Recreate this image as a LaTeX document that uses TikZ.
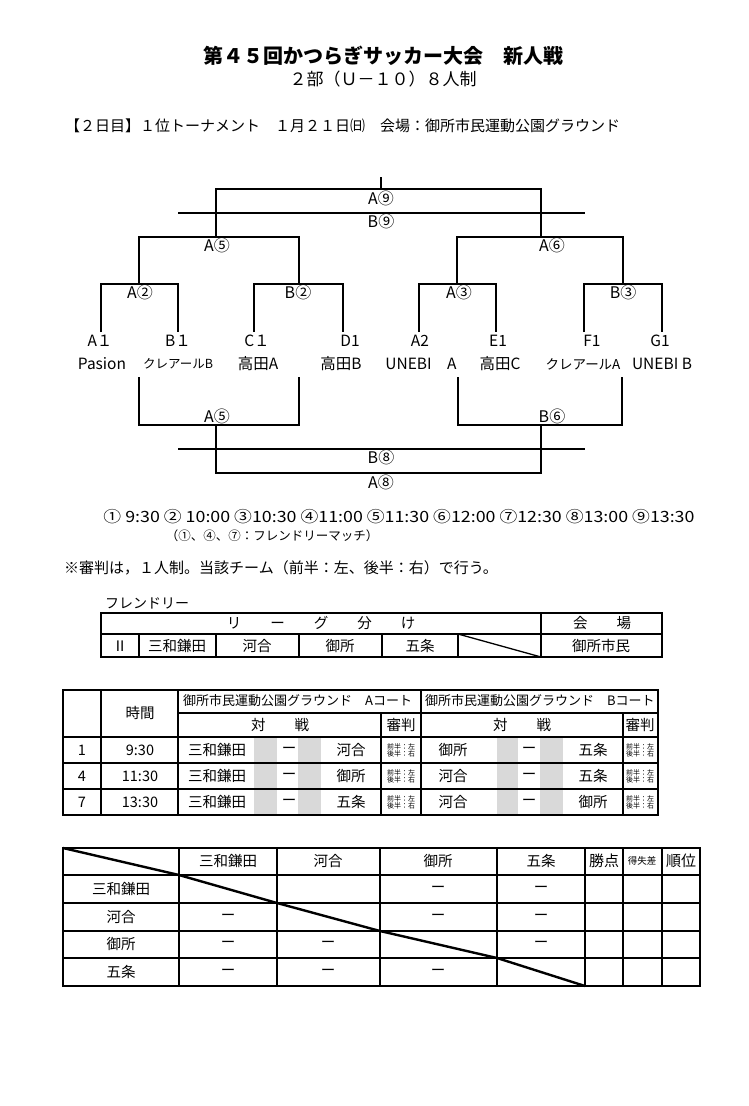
\documentclass[tikz,border=0pt]{standalone}
\usepackage{fontspec}
\usepackage{graphicx}
\setmainfont{Noto Sans CJK JP}
\usetikzlibrary{positioning}
\newcommand{\fsz}[1]{\fontsize{#1}{#1}\selectfont}
\definecolor{cellgray}{RGB}{217,217,217}
\tikzset{
	br/.style={line width=1.3pt},
	tb/.style={line width=1.3pt},
	tbk/.style={line width=2.8pt},
	lab/.style={inner sep=0pt,font=\fsz{15.5}},
	game/.style={inner sep=0pt,font=\fsz{16}},
	cell/.style={inner sep=0pt,font=\fsz{14.5}},
	refnote/.style={inner sep=0pt,align=center,font=\fsz{7}}
}
\begin{document}
\begin{tikzpicture}[x=1pt,y=-1pt]
	\useasboundingbox (0,0) rectangle (749,1106);
	% heading
	\node[lab,font=\fsz{20}\bfseries] (title) at (383,56) {第４５回かつらぎサッカー大会　新人戦};
	\node[lab,font=\fsz{17}] (subtitle) at (383,79) {２部（Ｕ－１０）８人制};
	\node[lab,font=\fsz{15},anchor=west] (day) at (65,126) {【２日目】１位トーナメント　１月２１日㈰　会場：御所市民運動公園グラウンド};
	% bracket, upper half
	\draw[br] (381,177)--(381,189);
	\draw[br] (216,237)--(216,189)--(541,189)--(541,237);
	\draw[br] (178,213)--(585,213);
	\draw[br] (139,284)--(139,237)--(299,237)--(299,284);
	\draw[br] (457,284)--(457,237)--(623,237)--(623,284);
	\draw[br] (101,332)--(101,284)--(178,284)--(178,332);
	\draw[br] (254,332)--(254,284)--(343,284)--(343,332);
	\draw[br] (419,332)--(419,284)--(496,284)--(496,332);
	\draw[br] (584,332)--(584,284)--(662,284)--(662,332);
	\node[game] (gA9) at (381,198) {A⑨};
	\node[game] (gB9) at (381,221) {B⑨};
	\node[game] (gA5) at (217,245) {A⑤};
	\node[game] (gA6) at (552,245) {A⑥};
	\node[game] (gA2) at (140,292) {A②};
	\node[game] (gB2) at (298,292) {B②};
	\node[game] (gA3) at (459,292) {A③};
	\node[game] (gB3) at (623,292) {B③};
	% teams
	\node[lab] (cA1) at (100,341) {A１};
	\node[lab] (cB1) at (178,341) {B１};
	\node[lab] (cC1) at (257,341) {C１};
	\node[lab] (cD1) at (350,341) {D1};
	\node[lab] (cA2) at (420,341) {A2};
	\node[lab] (cE1) at (498,341) {E1};
	\node[lab] (cF1) at (592,341) {F1};
	\node[lab] (cG1) at (660,341) {G1};
	\node[lab] (nA1) at (102,364) {Pasion};
	\node[lab,font=\fsz{12.5}] (nB1) at (178,364) {クレアールB};
	\node[lab] (nC1) at (258,364) {高田A};
	\node[lab] (nD1) at (341,364) {高田B};
	\node[lab] (nA2) at (421,364) {UNEBI　A};
	\node[lab] (nE1) at (500,364) {高田C};
	\node[lab,font=\fsz{13.5}] (nF1) at (583,364) {クレアールA};
	\node[lab] (nG1) at (662,364) {UNEBI B};
	% bracket, lower half
	\draw[br] (139,377)--(139,425)--(299,425)--(299,377);
	\draw[br] (458,377)--(458,425)--(622,425)--(622,377);
	\draw[br] (216,425)--(216,473)--(541,473)--(541,425);
	\draw[br] (178,449)--(585,449);
	\node[game] (gA5b) at (217,416) {A⑤};
	\node[game] (gB6) at (552,416) {B⑥};
	\node[game] (gB8) at (381,457) {B⑧};
	\node[game] (gA8) at (381,482) {A⑧};
	% times and notes
	\node[lab,font=\fsz{15.5}] (times) at (399,517) {\resizebox{591pt}{\height}{① 9:30 ② 10:00 ③10:30 ④11:00 ⑤11:30 ⑥12:00 ⑦12:30 ⑧13:00 ⑨13:30}};
	\node[lab,font=\fsz{12.5}] (friendlynote) at (272,536) {（①、④、⑦：フレンドリーマッチ）};
	\node[lab,font=\fsz{15},anchor=west] (refrule) at (64,568) {※審判は，１人制。当該チーム（前半：左、後半：右）で行う。};
	\node[lab,font=\fsz{14},anchor=west] (friendly) at (105,603) {フレンドリー};
	% friendly league table
	\draw[tb] (101,613) rectangle (662,657);
	\draw[tb] (101,634)--(662,634);
	\draw[tb] (541,613)--(541,657);
	\foreach \x in {139,216,299,382,458} \draw[tb] (\x,634)--(\x,657);
	\draw[tb] (458,634)--(541,657);
	\node[cell] (league) at (321,623) {リ　　ー　　グ　　分　　け};
	\node[cell] (venue) at (602,623) {会　　場};
	\node[cell] (grp) at (120,646) {Ⅱ};
	\node[cell] (fT1) at (177,646) {三和鎌田};
	\node[cell] (fT2) at (257,646) {河合};
	\node[cell] (fT3) at (340,646) {御所};
	\node[cell] (fT4) at (420,646) {五条};
	\node[cell] (fVenue) at (601,646) {御所市民};
	% schedule table
	\fill[cellgray] (254,737) rectangle (277,815);
	\fill[cellgray] (298,737) rectangle (321,815);
	\fill[cellgray] (497,737) rectangle (518,815);
	\fill[cellgray] (540,737) rectangle (563,815);
	\draw[tb] (63,690) rectangle (658,815);
	\draw[tb] (178,713)--(658,713);
	\foreach \y in {737,763,789} \draw[tb] (63,\y)--(658,\y);
	\foreach \x in {101,178,421} \draw[tb] (\x,690)--(\x,815);
	\foreach \x in {381,623} \draw[tb] (\x,713)--(\x,815);
	\node[lab,font=\fsz{13},anchor=west] (courtA) at (183,701) {御所市民運動公園グラウンド　Aコート};
	\node[lab,font=\fsz{13},anchor=west] (courtB) at (425,701) {御所市民運動公園グラウンド　Bコート};
	\node[cell] (hTime) at (140,713) {時間};
	\node[cell] (hVsA) at (280,725) {対　　戦};
	\node[cell] (hRefA) at (401,725) {審判};
	\node[cell] (hVsB) at (522,725) {対　　戦};
	\node[cell] (hRefB) at (640,725) {審判};
	\node[cell] (no1) at (82,750) {1};
	\node[cell] (no4) at (82,776) {4};
	\node[cell] (no7) at (82,802) {7};
	\node[cell] (t1) at (140,750) {9:30};
	\node[cell] (t4) at (140,776) {11:30};
	\node[cell] (t7) at (140,802) {13:30};
	\foreach \y/\nm in {750/a,776/b,802/c}{
		\node[cell] (dA\nm) at (289,\y) {ー};
		\node[cell] (dB\nm) at (529,\y) {ー};
		\node[refnote] (rA\nm) at (401,\y) {前半：左\\後半：右};
		\node[refnote] (rB\nm) at (640,\y) {前半：左\\後半：右};
	}
	\node[cell] (mA1l) at (217,750) {三和鎌田};
	\node[cell] (mA1r) at (351,750) {河合};
	\node[cell] (mB1l) at (453,750) {御所};
	\node[cell] (mB1r) at (593,750) {五条};
	\node[cell] (mA4l) at (217,776) {三和鎌田};
	\node[cell] (mA4r) at (351,776) {御所};
	\node[cell] (mB4l) at (453,776) {河合};
	\node[cell] (mB4r) at (593,776) {五条};
	\node[cell] (mA7l) at (217,802) {三和鎌田};
	\node[cell] (mA7r) at (351,802) {五条};
	\node[cell] (mB7l) at (453,802) {河合};
	\node[cell] (mB7r) at (593,802) {御所};
	% round robin table
	\foreach \y in {875,903,931,958} \draw[tb] (63,\y)--(700,\y);
	\foreach \x in {277,380,497,623,662} \draw[tb] (\x,848)--(\x,986);
	\foreach \x in {179,585} \draw[tbk] (\x,848)--(\x,986);
	\draw[tbk] (63,848) rectangle (700,986);
	\draw[line width=2.4pt] (63,848)--(179,875)--(277,903)--(380,931)--(497,958)--(585,986);
	\node[cell] (hT1) at (228,861) {三和鎌田};
	\node[cell] (hT2) at (328,861) {河合};
	\node[cell] (hT3) at (438,861) {御所};
	\node[cell] (hT4) at (541,861) {五条};
	\node[cell,font=\fsz{15}] (hPts) at (604,861) {勝点};
	\node[cell,font=\fsz{9.5}] (hDiff) at (642,861) {得失差};
	\node[cell,font=\fsz{15}] (hRank) at (681,861) {順位};
	\node[cell] (rT1) at (121,889) {三和鎌田};
	\node[cell] (rT2) at (121,917) {河合};
	\node[cell] (rT3) at (121,944) {御所};
	\node[cell] (rT4) at (121,972) {五条};
	\node[cell] (s13) at (438,889) {ー};
	\node[cell] (s14) at (541,889) {ー};
	\node[cell] (s21) at (228,917) {ー};
	\node[cell] (s23) at (438,917) {ー};
	\node[cell] (s24) at (541,917) {ー};
	\node[cell] (s31) at (228,944) {ー};
	\node[cell] (s32) at (328,944) {ー};
	\node[cell] (s34) at (541,944) {ー};
	\node[cell] (s41) at (228,972) {ー};
	\node[cell] (s42) at (328,972) {ー};
	\node[cell] (s43) at (438,972) {ー};
\end{tikzpicture}
\end{document}
